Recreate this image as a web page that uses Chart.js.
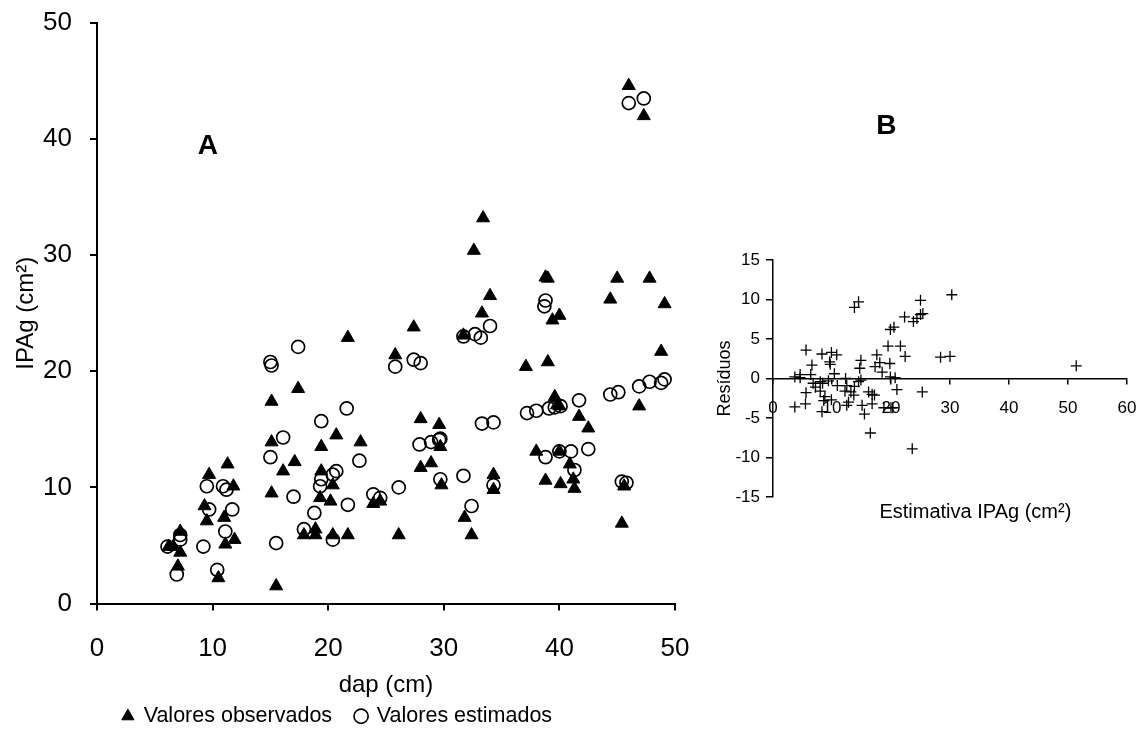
<!DOCTYPE html>
<html>
<head>
<meta charset="utf-8">
<script src="https://cdn.jsdelivr.net/npm/chart.js@4.4.1/dist/chart.umd.min.js"></script>
<style>
  html, body { margin: 0; padding: 0; background: #fff; overflow: hidden; }
  #chartA { position: absolute; left: 0; top: 0; }
  #chartB { position: absolute; left: 700px; top: 100px; }
</style>
</head>
<body>
<canvas id="chartA" width="708" height="749"></canvas>
<canvas id="chartB" width="446" height="430"></canvas>
<script>
// A: IPAg x dap
const obsDap = [6.2, 6.6, 7.2, 7.2, 7.0, 9.7, 11.3, 11.8, 9.3, 9.5, 11.0, 11.1, 11.9, 10.5, 15.1,
  15.1, 16.1, 15.1, 15.5, 32.6, 33.3, 27.4, 21.7, 25.8, 31.7, 17.4, 20.7, 22.8, 19.4, 28.0,
  29.6, 29.7, 17.1, 19.4, 28.0, 28.9, 20.4, 29.8, 19.3, 20.2, 23.9, 24.5, 18.9, 17.9, 18.9,
  20.4, 21.7, 26.1, 31.8, 32.4, 38.8, 39.0, 45.0, 47.8, 44.4, 49.1, 34.0, 40.0, 39.4, 48.8,
  37.1, 39.0, 39.6, 39.8, 40.0, 46.9, 41.7, 42.5, 38.0, 40.0, 40.9, 41.2, 38.8, 40.1, 41.3,
  34.3, 34.3, 45.6, 45.4, 46.0, 47.3, 33.4];
const obsIPAg = [4.9, 4.9, 6.2, 4.4, 3.2, 11.1, 12.0, 10.1, 8.4, 7.1, 7.4, 5.1, 5.5, 2.2, 17.4,
  13.9, 11.4, 9.5, 1.5, 30.4, 25.0, 23.8, 22.9, 21.4, 23.1, 18.5, 14.5, 13.9, 13.5, 15.9,
  15.4, 13.5, 12.2, 11.4, 11.7, 12.1, 10.2, 10.2, 9.1, 8.8, 8.6, 8.8, 6.4, 5.9, 5.9,
  5.9, 5.9, 5.9, 7.4, 5.9, 28.1, 28.0, 28.0, 28.0, 26.2, 25.8, 26.5, 24.8, 24.4, 21.7,
  20.4, 20.8, 17.8, 17.1, 17.0, 17.0, 16.1, 15.1, 13.1, 13.1, 12.0, 10.7, 10.6, 10.3, 9.9,
  11.1, 9.8, 10.1, 6.9, 44.6, 42.0, 33.2];

const estDap = [6.1, 7.2, 7.2, 6.9, 9.2, 9.5, 10.9, 11.2, 9.7, 11.7, 11.1, 10.4, 15.0, 15.1, 16.1,
  15.0, 15.5, 17.0, 17.4, 25.8, 27.4, 28.0, 31.7, 32.7, 33.2, 21.6, 19.4, 33.3, 22.7, 27.9,
  28.9, 29.6, 29.7, 20.7, 20.4, 19.4, 19.3, 29.7, 31.7, 21.7, 23.9, 24.5, 26.1, 18.8, 17.9,
  20.4, 32.4, 38.8, 38.7, 34.0, 34.3, 37.2, 38.0, 39.1, 39.6, 40.1, 41.7, 44.4, 45.1, 46.9,
  47.8, 48.8, 49.1, 38.8, 40.0, 41.0, 42.5, 41.3, 34.3, 45.4, 45.8, 46.0, 47.3];
const estIPAg = [4.9, 5.9, 5.5, 2.5, 4.9, 10.1, 10.1, 9.8, 8.1, 8.1, 6.2, 2.9, 20.8, 20.5, 14.3,
  12.6, 5.2, 9.2, 22.1, 20.4, 21.0, 20.7, 23.0, 23.2, 22.9, 16.8, 15.7, 15.5, 12.3, 13.7,
  13.9, 14.1, 14.2, 11.4, 11.1, 10.7, 10.1, 10.7, 11.0, 8.5, 9.4, 9.1, 10.0, 7.8, 6.4,
  5.5, 8.4, 26.1, 25.6, 23.9, 15.6, 16.4, 16.6, 16.8, 16.9, 17.0, 17.5, 18.0, 18.2, 18.7,
  19.1, 19.0, 19.3, 12.6, 13.1, 13.1, 13.3, 11.5, 10.2, 10.5, 10.4, 43.1, 43.5];

// B: residuos x estimativa
const resEst = [3.7, 4.6, 4.6, 5.6, 5.6, 5.5, 3.7, 6.6, 6.4, 6.8, 7.2, 8.0, 8.3, 8.0, 8.4,
  8.6, 8.3, 8.8, 9.6, 9.7, 9.9, 10.8, 9.9, 10.4, 10.9, 9.4, 12.3, 12.5, 12.2, 12.8,
  12.5, 13.2, 13.7, 13.8, 14.5, 14.9, 14.7, 14.9, 13.8, 14.5, 15.1, 15.5, 16.2, 16.8, 17.2,
  16.8, 16.5, 17.3, 17.6, 18.1, 18.5, 19.5, 19.8, 19.9, 20.5, 19.9, 20.7, 20.3, 21.0, 21.6,
  22.3, 22.4, 23.8, 24.4, 25.0, 25.0, 25.4, 25.3, 23.6, 28.4, 30.0, 30.3, 51.4, 18.8, 20.0];
const resVal = [0.2, 0.5, 0.1, 3.6, -1.8, -3.2, -3.6, 1.7, 0.5, -0.6, -1.1, -0.4, 3.1, -1.6, -0.6,
  -2.8, -4.2, -2.3, 2.1, 1.8, 3.3, 3.0, -2.7, 0.6, -0.9, -0.3, 0.0, -0.9, -1.6, -3.0,
  -3.4, -1.7, -2.1, -1.0, -0.4, -0.2, 1.3, 2.3, 9.0, 9.7, -3.4, -4.5, -1.7, -2.0, -2.1,
  -3.2, -6.9, 1.5, 3.0, 2.0, 0.8, 4.1, 1.9, 6.2, 6.5, 0.2, 0.1, -3.7, -1.4, 4.1,
  7.8, 2.8, 7.2, 7.6, 9.9, 8.1, 8.2, -1.7, -8.9, 2.7, 2.8, 10.6, 1.6, -3.7, -3.7];

const ticksA = [0, 10, 20, 30, 40, 50];
const ticksBx = [0, 10, 20, 30, 40, 50, 60];
const ticksBy = [-15, -10, -5, 0, 5, 10, 15];

Chart.defaults.font.family = "'Liberation Sans', Arial, sans-serif";
Chart.defaults.color = "#000";

const pts = (xs, ys) => xs.map((x, i) => ({ x: x, y: ys[i] }));

// small text drawn at a data position
const notes = (items) => ({
  id: "notes",
  afterDraw(chart) {
    const ctx = chart.ctx;
    ctx.save();
    ctx.fillStyle = "#000";
    ctx.textAlign = "center";
    ctx.textBaseline = "middle";
    items.forEach((t) => {
      ctx.font = t.font;
      ctx.fillText(t.text, chart.scales.x.getPixelForValue(t.x), chart.scales.y.getPixelForValue(t.y));
    });
    ctx.restore();
  },
});

const axisGrid = (len, w) => ({
  drawOnChartArea: false,
  drawTicks: true,
  tickLength: len,
  color: "#000",
  lineWidth: w,
});

// tick labels should not push the plot area in
const noPadX = (s) => { s.paddingLeft = 0; s.paddingRight = 0; };
const noPadY = (s) => { s.paddingTop = 0; s.paddingBottom = 0; };

new Chart(document.getElementById("chartA"), {
  type: "scatter",
  data: {
    datasets: [
      {
        label: "Valores observados",
        data: pts(obsDap, obsIPAg),
        pointStyle: "triangle",
        pointRadius: 7.5,
        backgroundColor: "#000",
        borderColor: "#000",
        borderWidth: 1,
      },
      {
        label: "Valores estimados",
        data: pts(estDap, estIPAg),
        pointStyle: "circle",
        pointRadius: 6.5,
        backgroundColor: "rgba(0,0,0,0)",
        borderColor: "#000",
        borderWidth: 1.7,
      },
    ],
  },
  options: {
    responsive: false,
    animation: false,
    layout: { padding: { top: 23, right: 33, bottom: 12, left: 0 } },
    plugins: {
      tooltip: { enabled: false },
      legend: {
        position: "bottom",
        labels: {
          usePointStyle: true,
          boxWidth: 10,
          boxHeight: 10,
          padding: 24,
          color: "#000",
          font: { size: 21.5 },
        },
      },
    },
    scales: {
      x: {
        type: "linear",
        min: 0,
        max: 50,
        afterBuildTicks: (s) => { s.ticks = ticksA.map((v) => ({ value: v })); },
        afterFit: (s) => { s.height = 78; noPadX(s); },
        ticks: { padding: 23, font: { size: 26 } },
        grid: axisGrid(7, 2),
        border: { color: "#000", width: 2 },
        title: { display: true, text: "dap (cm)", font: { size: 24, lineHeight: 1 }, padding: { top: 0, bottom: -16 } },
      },
      y: {
        min: 0,
        max: 50,
        afterBuildTicks: (s) => { s.ticks = ticksA.map((v) => ({ value: v })); },
        afterFit: (s) => { s.width = 97; noPadY(s); },
        ticks: { padding: 18, font: { size: 26 } },
        grid: axisGrid(7, 2),
        border: { color: "#000", width: 2 },
        title: { display: true, text: "IPAg (cm²)", font: { size: 24 }, padding: { top: 12, bottom: 0 } },
      },
    },
  },
  plugins: [notes([{ text: "A", x: 9.6, y: 39.4, font: "bold 28px 'Liberation Sans', Arial" }])],
});

new Chart(document.getElementById("chartB"), {
  type: "scatter",
  data: {
    datasets: [
      {
        label: "Resíduos",
        data: pts(resEst, resVal),
        pointStyle: "cross",
        pointRadius: 5.5,
        borderColor: "#000",
        borderWidth: 1.3,
      },
    ],
  },
  options: {
    responsive: false,
    animation: false,
    layout: { padding: { top: 160, right: 19, bottom: 33, left: 0 } },
    plugins: { legend: { display: false }, tooltip: { enabled: false } },
    scales: {
      x: {
        type: "linear",
        position: { y: 0 },
        min: 0,
        max: 60,
        afterBuildTicks: (s) => { s.ticks = ticksBx.map((v) => ({ value: v })); },
        afterFit: noPadX,
        ticks: { padding: 15, font: { size: 17 } },
        grid: axisGrid(5, 1.5),
        border: { color: "#000", width: 1.5 },
      },
      y: {
        min: -15,
        max: 15,
        afterBuildTicks: (s) => { s.ticks = ticksBy.map((v) => ({ value: v })); },
        afterFit: (s) => { s.width = 73; noPadY(s); },
        ticks: { padding: 6, font: { size: 17 } },
        grid: axisGrid(7, 1.5),
        border: { color: "#000", width: 1.5 },
        title: { display: true, text: "Resíduos", font: { size: 18 }, padding: { top: 14, bottom: 0 } },
      },
    },
  },
  plugins: [notes([
    { text: "B", x: 19.2, y: 31.9, font: "bold 28px 'Liberation Sans', Arial" },
    { text: "Estimativa IPAg (cm²)", x: 34.3, y: -16.9, font: "20px 'Liberation Sans', Arial" },
  ])],
});
</script>
</body>
</html>
